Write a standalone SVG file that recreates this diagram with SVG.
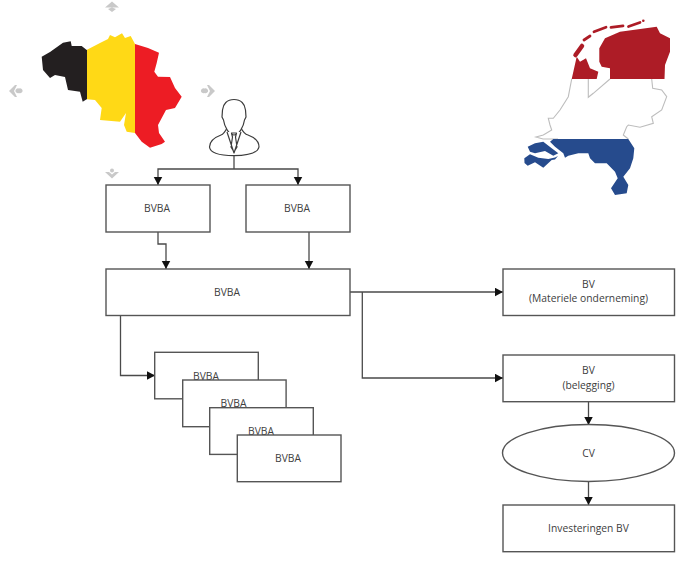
<svg xmlns="http://www.w3.org/2000/svg" width="700" height="585" viewBox="0 0 700 585">
<style>
.box{fill:#fff;stroke:#555;stroke-width:1.4}
.lbl{font-family:"Open Sans",sans-serif;font-size:10.300px;fill:#404040;text-anchor:middle}
.con{fill:none;stroke:#4a4a4a;stroke-width:1.300}
.nav{fill:#c9c9c9}
.p{fill:#fff;stroke:#3c3c3c;stroke-width:1.200;stroke-linejoin:round}
.nl{fill:none;stroke:#bdbdbd;stroke-width:1.100}
.rd{fill:#ad1c26}
.bl{fill:#264b8d}
</style>
<defs>
<marker id="ah" markerUnits="userSpaceOnUse" markerWidth="10" markerHeight="10" refX="8.500" refY="4.500" orient="auto"><path d="M0 0L8.500 4.500L0 9Z" fill="#111"/></marker>
<path id="be" d="M41.700 56.700L50 52L63 42.700L70.700 41.300L71.700 46L81.700 46L86.700 50L100 43L108 39L110 35L115 37.300L122 33.300L125 38L130.700 36L135 44L148 48L159 52.700L156.700 63L154.300 71.700L158 76.700L170 77L175 88L181.700 96.700L175 108L166 110L158 125L159 133L165 141.700L161.700 144L150 147.700L141.700 141.700L135 133L126.700 131.700L124 125L126 113L120 121.700L100 120L101.700 108L95 100L86.700 99.300L82.700 101.700L80 91.700L68 90L65 77L55 75L50 78L43 70Z"/>
<clipPath id="c1"><rect x="30" y="20" width="57" height="140"/></clipPath>
<clipPath id="c2"><rect x="87" y="20" width="48" height="140"/></clipPath>
<clipPath id="c3"><rect x="135" y="20" width="60" height="140"/></clipPath>
</defs>
<g id="nav-handles">
<path class="nav" d="M112 1.500L119 7.500L105 7.500Z M108 9L112 12L116 9L112 7.500Z"/>
<path class="nav" d="M15 85L9 91L15 97L17 97L14 91L17 85Z M19 88.500A2.500 2.500 0 1 1 19 93A2.500 2.500 0 1 1 19 88.500Z"/>
<path class="nav" d="M209 85L215 91L209 97L207 97L210 91L207 85Z M204.500 88.500A2.500 2.500 0 1 1 204.500 93A2.500 2.500 0 1 1 204.500 88.500Z"/>
<path class="nav" d="M105 172L112 178.500L119 172L115 172L112 174.500L109 172Z M112 168.500A2 2 0 1 1 112 172.500A2 2 0 1 1 112 168.500Z"/>
</g>
<g id="map-belgium">
<use href="#be" fill="#231f20" clip-path="url(#c1)"/>
<use href="#be" fill="#ffd916" clip-path="url(#c2)"/>
<use href="#be" fill="#ed1c24" clip-path="url(#c3)"/>
</g>
<g id="map-netherlands">
<path class="nl" d="M571.700 79L568.300 96.700L560 110L553.300 118.300L548.300 118.300L550 125L551.700 130L543.300 135L536 137L543 139L558 139M628.300 139L623.300 135L626.700 126.700L628.300 125L640 127.300L653.300 123.300L651.700 116.700L661.700 110L666.700 96.700L661.700 90L652.700 88.300L651.700 79M588.300 79L588.300 97.300L593.300 93.300L610 79"/>
<path class="rd" d="M599.300 61.700L599.300 48.300L605 38.300L620 31.700L656.700 26.700L660 33.300L670 38.300L670 51.700L665 65L664.500 79L610 79L610 68.300L601.700 66.700Z"/>
<path class="rd" d="M576.700 56.700L571.700 79L596.700 79L598.300 71.700L590 68.300L586 58.300L580 61.700Z"/>
<g fill="none" stroke="#ad1c26" stroke-linecap="round"><path stroke-width="4.500" d="M575.500 55L582 46"/><path stroke-width="2.800" d="M584 40L590 36M594 31.700L606 27.200M611 27.300L623 25.800M628.500 26.500L640 22.500"/></g>
<circle cx="643.300" cy="20.700" r="1.300" fill="#ad1c26"/>
<path class="bl" d="M553.300 139L628.300 139L634.300 148.300L633.300 158.300L630 168.300L623.300 176.700L628.300 185L626.700 193.300L615 195L611 188.300L617.700 178.300L615 171.700L606.700 163.300L595 163.300L590 158.300L588.300 153.300L578.300 153.300L568.300 155.700L565 157.700L563.300 153.300L555 146.700L550 141.700Z"/>
<path class="bl" d="M527.700 146.700L535 143.300L543.300 141.700L551.700 148.300L558.300 153.300L553.300 155.700L545 151L535 153.300L530 151.700Z"/>
<path class="bl" d="M524.300 158.300L530 154.300L538.300 157.700L548.300 159L555 157.500L558 156L555 159.500L551.700 160L543.300 167.700L535 162.300L527.700 165.700L524.500 163Z"/>
</g>
<g id="person">
<path class="p" d="M221 135C224 134 226 130 227 128L241 128C242 130 244 134 248 135C256 138 259 142 259 147C258 152 250 155.500 234 155.700C218 155.500 210 152 209.500 147C209.500 142 213 138 221 135Z"/>
<path class="p" d="M234 99.500C241 99.500 245 104 245.500 110L246 117L244.500 120C243.500 127 239 135 234 135C229 135 224.500 127 223.500 120L222 117L222.500 110C223 104 227 99.500 234 99.500Z"/>
<path class="p" d="M227 132L234 153L241 132M231.500 133L236.500 133L235.500 137L237 147L234 152L231 147L232.500 137Z"/>
</g>
<g id="connectors" class="con">
<path class="con" d="M234 156V169"/>
<path class="con" d="M234 169H158V185" marker-end="url(#ah)"/>
<path class="con" d="M234 169H298V185" marker-end="url(#ah)"/>
<path class="con" d="M158 232V244H166V269" marker-end="url(#ah)"/>
<path class="con" d="M309 232V269" marker-end="url(#ah)"/>
<path class="con" d="M350 292H503" marker-end="url(#ah)"/>
<path class="con" d="M362.300 292V378H503" marker-end="url(#ah)"/>
<path class="con" d="M120.500 316V375.500H155" marker-end="url(#ah)"/>
<path class="con" d="M588.500 402V425" marker-end="url(#ah)"/>
<path class="con" d="M588.500 482V505" marker-end="url(#ah)"/>
</g>
<g id="n-bvba-a"><rect class="box" x="106" y="185" width="104" height="47"/><text class="lbl" x="157" y="212">BVBA</text></g>
<g id="n-bvba-b"><rect class="box" x="246" y="185" width="104" height="47"/><text class="lbl" x="297" y="212">BVBA</text></g>
<g id="n-bvba-main"><rect class="box" x="106" y="269" width="244" height="46.500"/><text class="lbl" x="227" y="295.500">BVBA</text></g>
<g id="n-sub-1"><rect class="box" x="154.700" y="352.300" width="103.600" height="46.500"/><text class="lbl" x="206" y="379.500">BVBA</text></g>
<g id="n-sub-2"><rect class="box" x="182.700" y="380" width="103.400" height="46.700"/><text class="lbl" x="233.500" y="407">BVBA</text></g>
<g id="n-sub-3"><rect class="box" x="209.700" y="407.700" width="103.600" height="46.700"/><text class="lbl" x="261" y="434.500">BVBA</text></g>
<g id="n-sub-4"><rect class="box" x="237.300" y="435" width="103.700" height="46.700"/><text class="lbl" x="288" y="462">BVBA</text></g>
<g id="n-bv-mat"><rect class="box" x="503" y="269" width="171.500" height="46.500"/><text class="lbl" x="588.500" y="288">BV</text><text class="lbl" x="588.500" y="302">(Materiele onderneming)</text></g>
<g id="n-bv-bel"><rect class="box" x="503" y="355" width="171.500" height="46.700"/><text class="lbl" x="588.500" y="374">BV</text><text class="lbl" x="588.500" y="389">(belegging)</text></g>
<g id="n-cv"><ellipse class="box" cx="588.500" cy="453" rx="86" ry="28.500"/><text class="lbl" x="588.500" y="457">CV</text></g>
<g id="n-inv"><rect class="box" x="503" y="505" width="171.500" height="46.700"/><text class="lbl" x="588.500" y="532">Investeringen BV</text></g>
</svg>
